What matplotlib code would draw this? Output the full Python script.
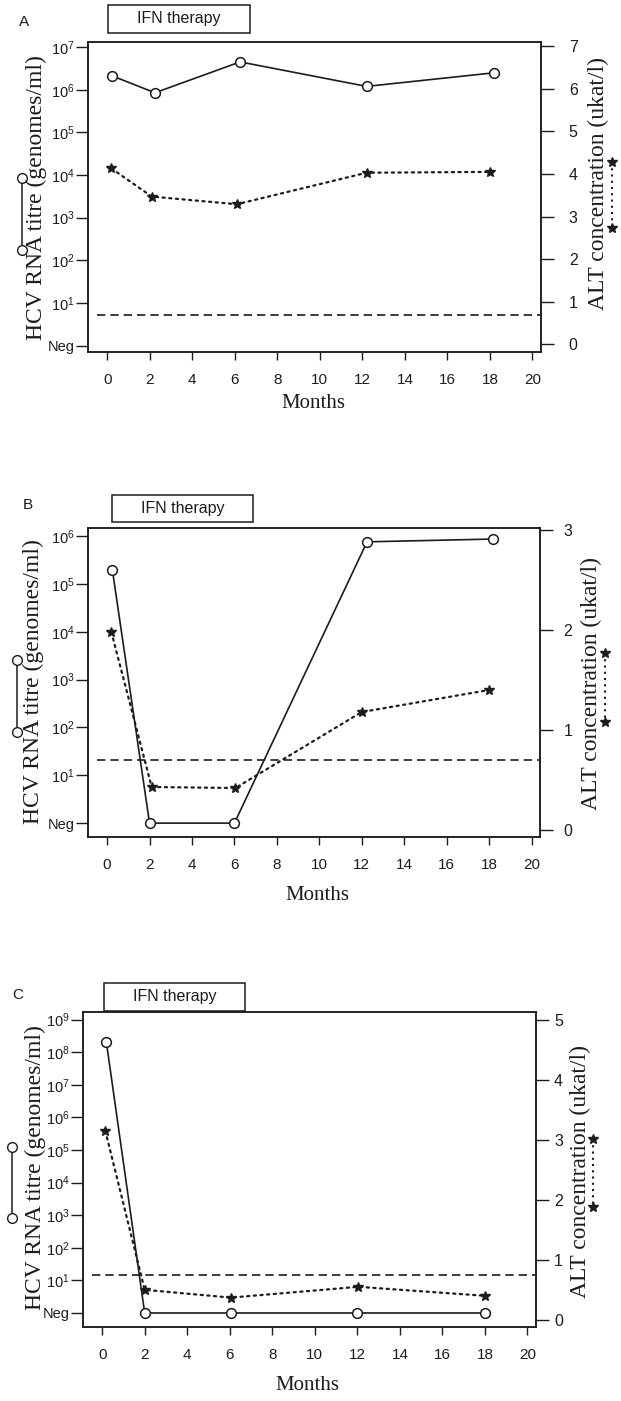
import matplotlib
matplotlib.use("Agg")
import matplotlib.pyplot as plt
from matplotlib.lines import Line2D
from matplotlib.patches import Rectangle
from matplotlib.ticker import NullLocator

W, H = 621, 1401
INK = "#1c1c1c"
SANS = "Liberation Sans"
SERIF = "Liberation Serif"

# --- data (Neg titre plotted at 1 = 10^0) ---
months = [0, 2, 4, 6, 8, 10, 12, 14, 16, 18, 20]

hcv_months_a = [0.25, 2.25, 6.25, 12.2, 18.2]
hcv_a = [2.1e6, 8.5e5, 4.5e6, 1.2e6, 2.5e6]
alt_months_a = [0.2, 2.1, 6.1, 12.2, 18.0]
alt_a = [4.13, 3.47, 3.29, 4.03, 4.05]

hcv_months_b = [0.25, 2.0, 6.0, 12.25, 18.2]
hcv_b = [1.95e5, 1, 1, 7.6e5, 8.7e5]
alt_months_b = [0.2, 2.1, 6.05, 12.0, 18.0]
alt_b = [1.98, 0.43, 0.42, 1.18, 1.40]

hcv_months_c = [0.2, 2.0, 6.05, 12.0, 18.0]
hcv_c = [2.0e8, 1, 1, 1, 1]
alt_months_c = [0.15, 2.0, 6.05, 12.05, 18.0]
alt_c = [3.15, 0.50, 0.37, 0.55, 0.40]

alt_limit = [0.68, 0.70, 0.75]      # upper normal ALT (dashed)
hcv_top_exp = [7, 6, 9]
alt_top = [7, 3, 5]
panel_names = ["A", "B", "C"]

# layout, pixels of the 621x1401 page
frames = [(88, 541, 42, 352), (88, 540, 528, 837), (83, 536, 1012, 1327)]
left_lims = [(-0.15, 7.12), (-0.29, 6.17), (-0.43, 9.23)]
right_lims = [(-0.18, 7.1), (-0.07, 3.02), (-0.12, 5.13)]
right_pad = [11, 8, 4]
ifn_boxes = [(108, 5, 250, 33), (112, 495, 253, 522), (104, 983, 245, 1011)]
letter_pos = [(24, 22), (28, 505), (18, 995)]
ylab_left = [(36, 198), (33, 682), (35, 1168)]
ylab_right = [(598, 184), (591, 683), (580, 1172)]
key_left = [(22, 178, 250), (17, 660, 732), (12, 1147, 1218)]
key_right = [(612, 162, 228), (605, 653, 722), (593, 1139, 1207)]
months_lab = [(313, 403), (317, 895), (307, 1385)]

hcv_months = [hcv_months_a, hcv_months_b, hcv_months_c]
hcv = [hcv_a, hcv_b, hcv_c]
alt_months = [alt_months_a, alt_months_b, alt_months_c]
alt = [alt_a, alt_b, alt_c]


def fx(x):
    return x / W


def fy(y):
    return 1 - y / H


fig = plt.figure(figsize=(W / 100, H / 100), dpi=100, facecolor="white")

for i in range(3):
    x0, x1, y0, y1 = frames[i]
    ax = fig.add_axes([fx(x0), fy(y1), (x1 - x0) / W, (y1 - y0) / H])
    ax2 = ax.twinx()

    # HCV titre, log scale
    ax.set_yscale("log")
    ax.set_ylim(10 ** left_lims[i][0], 10 ** left_lims[i][1])
    ax.set_xlim(-0.9, 20.4)
    ax.plot(hcv_months[i], hcv[i], color=INK, lw=1.2, marker="o", ms=7,
            mfc="white", mec=INK, mew=1.1, zorder=4)
    exps = list(range(hcv_top_exp[i] + 1))
    ax.set_yticks([10.0 ** k for k in exps])
    ax.set_yticklabels(["Neg"] + [rf"$\mathregular{{10^{{{k}}}}}$" for k in exps[1:]])
    ax.yaxis.set_minor_locator(NullLocator())
    ax.set_xticks(months)
    ax.set_xticklabels([str(m) for m in months])

    # ALT, linear
    ax2.set_ylim(*right_lims[i])
    ax2.plot(alt_months[i], alt[i], color=INK, lw=1.6, ls=(0, (1, 2)),
             dash_capstyle="round", marker="*", ms=7, mfc=INK, mec=INK, zorder=4)
    ax2.axhline(alt_limit[i], xmin=0.02, xmax=1, color=INK, lw=1.2, ls=(0, (5, 3)))
    ax2.set_yticks(range(alt_top[i] + 1))

    for a in (ax, ax2):
        for sp in a.spines.values():
            sp.set_linewidth(1.1)
            sp.set_color(INK)
    ax.tick_params(axis="y", which="major", direction="out", length=9, width=1,
                   pad=0.5, labelsize=10.5, colors=INK, labelfontfamily=SANS)
    ax.tick_params(axis="x", direction="out", length=6, width=1, pad=9,
                   labelsize=11, colors=INK, labelfontfamily=SANS)
    ax2.tick_params(axis="y", direction="out", length=9, width=1, pad=right_pad[i],
                    labelsize=11.5, colors=INK, labelfontfamily=SANS)

    # panel letter and IFN therapy bar
    lx, ly = letter_pos[i]
    fig.text(fx(lx), fy(ly), panel_names[i], fontsize=11, fontfamily=SANS,
             color=INK, ha="center", va="center")
    bx0, by0, bx1, by1 = ifn_boxes[i]
    fig.add_artist(Rectangle((fx(bx0), fy(by1)), (bx1 - bx0) / W, (by1 - by0) / H,
                             transform=fig.transFigure, fill=False, ec=INK, lw=1.1))
    fig.text(fx((bx0 + bx1) / 2), fy((by0 + by1) / 2), "IFN therapy", fontsize=11.5,
             fontfamily=SANS, color=INK, ha="center", va="center")

    # axis titles
    tx, ty = ylab_left[i]
    fig.text(fx(tx), fy(ty), "HCV RNA titre (genomes/ml)", rotation=90,
             fontsize=17, fontfamily=SERIF, color=INK, ha="center", va="center")
    tx, ty = ylab_right[i]
    fig.text(fx(tx), fy(ty), "ALT concentration (ukat/l)", rotation=90,
             fontsize=17, fontfamily=SERIF, color=INK, ha="center", va="center")
    tx, ty = months_lab[i]
    fig.text(fx(tx), fy(ty), "Months", fontsize=15, fontfamily=SERIF, color=INK,
             ha="center", va="center")

    # series keys beside the axis titles
    kx, ka, kb = key_left[i]
    fig.add_artist(Line2D([fx(kx), fx(kx)], [fy(ka), fy(kb)], transform=fig.transFigure,
                          color=INK, lw=1.1, marker="o", ms=7, mfc="white", mec=INK))
    kx, ka, kb = key_right[i]
    fig.add_artist(Line2D([fx(kx), fx(kx)], [fy(ka), fy(kb)], transform=fig.transFigure,
                          color=INK, lw=1.5, ls=(0, (1, 2)), marker="*", ms=7,
                          mfc=INK, mec=INK))

fig.savefig("out.png", dpi=100, facecolor="white")
